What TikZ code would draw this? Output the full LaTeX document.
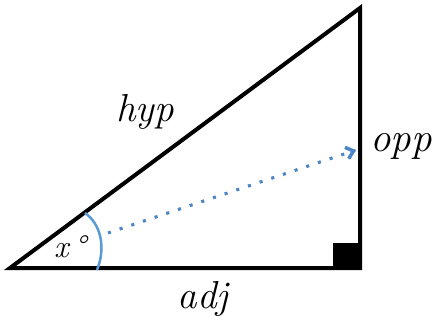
\documentclass[tikz,border=0pt]{standalone}
\usetikzlibrary{arrows.meta}
\definecolor{arcblue}{HTML}{5B9BD5}
\definecolor{dotblue}{HTML}{4A86C8}
\tikzset{
  side/.style={line width=4pt, line join=miter},
  lbl/.style={inner sep=0pt, anchor=base, font=\fontsize{39}{46}\selectfont\itshape},
  dotline/.style={line width=3pt, dotblue, dash pattern=on 3pt off 9.3pt},
}
\begin{document}
\begin{tikzpicture}[x=1pt,y=-1pt]
\useasboundingbox (0,0) rectangle (438,320);
\coordinate (A) at (10,268);
\coordinate (B) at (360,268);
\coordinate (C) at (360,8);
\coordinate (S) at (108,233);
\coordinate (E) at (356,150);
% right angle mark
\fill (333,243) rectangle (B);
% triangle
\draw[side] (A) -- (B) -- (C) -- cycle;
% angle arc
\coordinate (P) at (85,213);
\coordinate (Q) at (97,270);
\draw[arcblue, line width=2.5pt] (P) .. controls (101,224) and (106,248) .. (Q);
% dotted arrow shadow
\draw[dotline, gray!35, shift={(1.5,1.5)}] (S) -- (E);
\draw[dotline, -{Straight Barb[length=7pt,width=12pt,line width=3.5pt]}, line cap=butt] (S) -- (E);
% labels
\node[lbl] (hyp) at (145,122) {hyp};
\node[lbl, font=\fontsize{41}{48}\selectfont\itshape] (opp) at (401,152) {opp};
\node[lbl] (adj) at (203,308) {adj};
\node[lbl, font=\fontsize{32}{38}\selectfont\itshape] (x) at (70,257) {x\,°};
\end{tikzpicture}
\end{document}
